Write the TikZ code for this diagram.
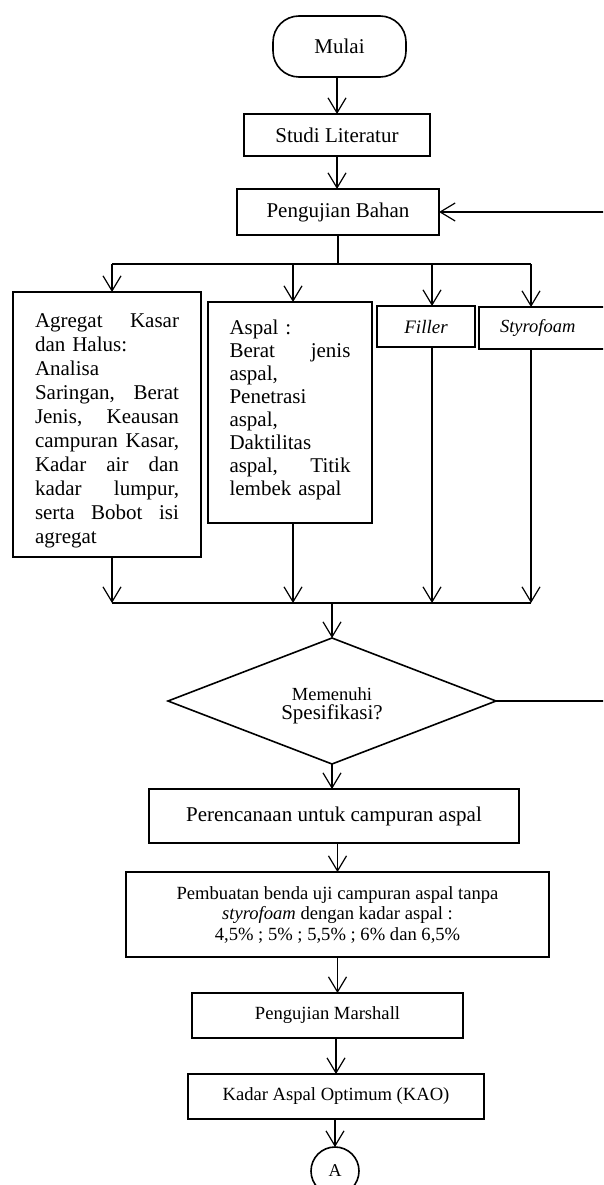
\documentclass[tikz,border=0pt]{standalone}
\usepackage{fontspec}
\setmainfont{Liberation Serif}
\usetikzlibrary{positioning,arrows.meta,shapes.geometric}

\tikzset{
  box/.style={draw=black, line width=1.6pt, rectangle, outer sep=0pt, inner sep=0pt, align=center},
  terminal/.style={box, rounded corners=26pt, minimum width=133pt, minimum height=61pt,
    font=\fontsize{21}{24}\selectfont},
  process/.style={box, font=\fontsize{21}{24}\selectfont},
  smallproc/.style={box, minimum height=45pt, font=\fontsize{18.6}{20.5}\selectfont},
  listbox/.style={box, align=left, anchor=north, font=\fontsize{21}{24}\selectfont},
  decision/.style={draw=black, diamond, aspect=2.6, line width=1.6pt, minimum width=328pt, minimum height=126pt,
    inner sep=0pt, outer sep=0pt, align=center, font=\fontsize{21}{19}\selectfont},
  connector/.style={draw=black, circle, line width=1.6pt, minimum size=48pt, inner sep=0pt,
    outer sep=0pt, font=\fontsize{18}{20}\selectfont},
  link/.style={line width=1.2pt},
  flow/.style={link, -{Straight Barb[length=15pt,width=18pt]}}
}

\begin{document}
\begin{tikzpicture}[x=1pt, y=-1pt]
    \useasboundingbox (0,0) rectangle (603,1185);
    \clip (0,0) rectangle (603,1185);

    % main column, top
    \node[terminal] (mulai) at (339.5,46.5) {Mulai};
    \node[process, minimum width=186pt, minimum height=42pt, below=37pt of mulai, xshift=-2.5pt] (studi) {Studi Literatur};
    \node[process, minimum width=202pt, minimum height=46pt, below=33pt of studi, xshift=1pt] (bahan) {Pengujian Bahan};

    % material boxes
    \node[listbox, text width=144pt, minimum width=188pt, text height=35pt, text depth=230pt] (agregat) at (107,292)
      {Agregat\hfill Kasar\\ dan Halus:\\ Analisa\\ Saringan,\hfill Berat\\ Jenis,\hfill Keausan\\
       campuran\hfill Kasar,\\ Kadar\hfill air\hfill dan\\ kadar\hfill lumpur,\\ serta\hfill Bobot\hfill isi\\ agregat};
    \node[listbox, text width=121pt, minimum width=164pt, text height=32pt, text depth=189pt,
      font=\fontsize{21}{23}\selectfont] (aspal) at (290,302)
      {Aspal :\\ Berat\hfill jenis\\ aspal,\\ Penetrasi\\ aspal,\\ Daktilitas\\ aspal,\hfill Titik\\ lembek aspal};
    \node[box, minimum width=98pt, minimum height=41pt, font=\fontsize{19}{22}\selectfont\itshape] (filler) at (426,326.5) {Filler};
    \node[box, anchor=west, text width=119pt, align=left, inner xsep=21pt, minimum height=42pt,
      font=\fontsize{18.5}{22}\selectfont\itshape] (styro) at (479,328) {Styrofoam};

    % bus lines
    \coordinate (jA) at (112,264);
    \coordinate (jB) at (293,264);
    \coordinate (jC) at (432,264);
    \coordinate (jD) at (531,264);
    \coordinate (kA) at (112,603);
    \coordinate (kB) at (293,603);
    \coordinate (kC) at (432,603);
    \coordinate (kD) at (531,603);

    % main column, bottom
    \node[decision] (cek) at (332,701) {{\fontsize{18.5}{19}\selectfont\rule{0pt}{23pt}Memenuhi}\\Spesifikasi?};
    \node[process, minimum width=370pt, minimum height=54pt, below=25pt of cek, xshift=2pt] (rencana) {Perencanaan untuk campuran aspal};
    \node[smallproc, minimum width=423pt, minimum height=85pt, below=29pt of rencana, xshift=3.5pt] (buat)
      {Pembuatan benda uji campuran aspal tanpa\\ \textit{styrofoam} dengan kadar aspal :\\ 4,5\% ; 5\% ; 5,5\% ; 6\% dan 6,5\%};
    \node[smallproc, minimum width=271pt, below=36pt of buat, xshift=-10pt] (marshall) {Pengujian Marshall};
    \node[smallproc, minimum width=296pt, below=36pt of marshall, xshift=8.5pt] (kao) {Kadar Aspal Optimum (KAO)};
    \node[connector, below=28pt of kao, xshift=-1pt] (konA) {A};

    % connectors
    \draw[flow] (studi.north |- mulai.south) -- (studi.north);
    \draw[flow] (studi.south) -- (studi.south |- bahan.north);
    \draw[link] (bahan.south) -- (bahan.south |- jA);
    \draw[link] (jA) -- (jD);
    \draw[flow] (jA) -- (jA |- agregat.north);
    \draw[flow] (jB) -- (jB |- aspal.north);
    \draw[flow] (jC) -- (jC |- filler.north);
    \draw[flow] (jD) -- (jD |- styro.north);

    \draw[flow] (kA |- agregat.south) -- (kA);
    \draw[flow] (kB |- aspal.south) -- (kB);
    \draw[flow] (kC |- filler.south) -- (kC);
    \draw[flow] (kD |- styro.south) -- (kD);
    \draw[link] (kA) -- (kD);
    \draw[flow] (kA -| cek.north) -- (cek.north);

    \draw[flow] (cek.east) -- ++(130,0) |- (bahan.east);
    \draw[flow] (cek.south) -- (cek.south |- rencana.north);
    \draw[flow] (buat.north |- rencana.south) -- (buat.north);
    \draw[flow] (buat.south) -- (buat.south |- marshall.north);
    \draw[flow] (kao.north |- marshall.south) -- (kao.north);
    \draw[flow] (konA.north |- kao.south) -- (konA.north);
\end{tikzpicture}
\end{document}
